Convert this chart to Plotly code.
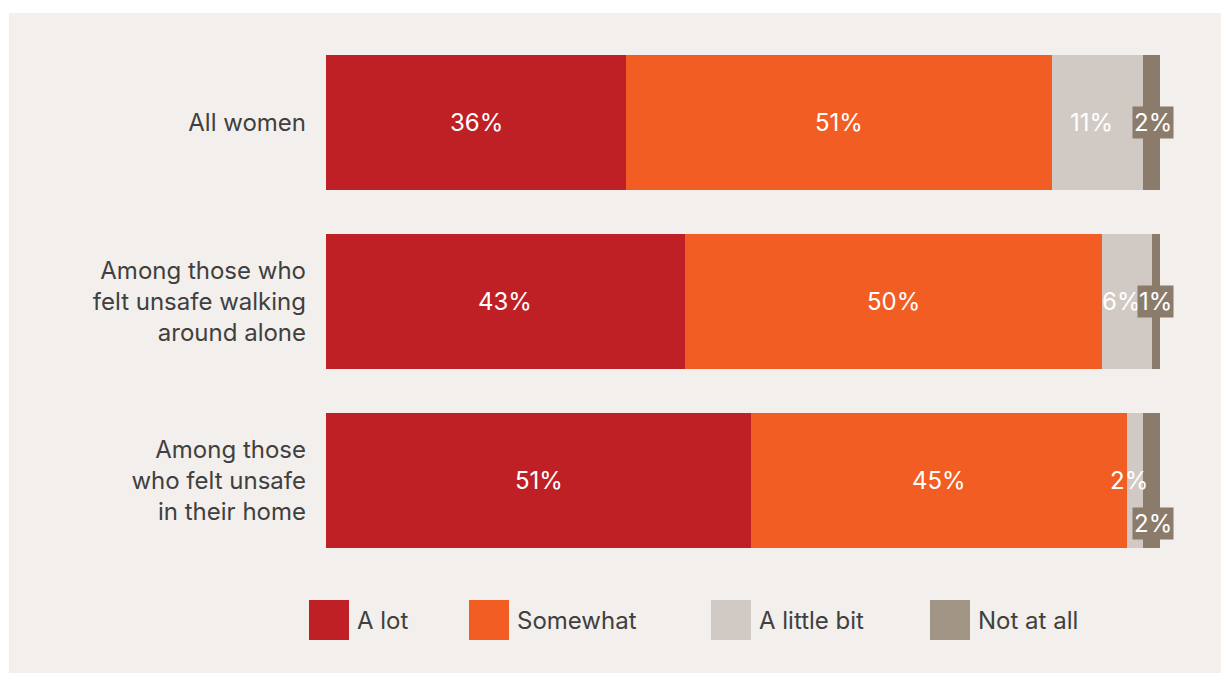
import plotly.graph_objects as go

categories = ["All women",
              "Among those who<br>felt unsafe walking<br>around alone",
              "Among those<br>who felt unsafe<br>in their home"]
series_names = ["A lot", "Somewhat", "A little bit", "Not at all"]
a_lot = [36, 43, 51]
somewhat = [51, 50, 45]
a_little = [11, 6, 2]
not_at_all = [2, 1, 2]

bar_colors = ["#BE2026", "#F15D22", "#D1CAC4", "#8B7B6A"]
legend_colors = ["#BE2026", "#F15D22", "#D1CAC4", "#A09484"]
text_color = "#404040"
FONT = "Inter"
FS = 24
FW = 400

W, H = 1221, 673
ML, MR, MT, MB = 326, 61, 33, 103
PW, PH = W - ML - MR, H - MT - MB


def px_x(x):
    return (x - ML) / PW


def px_y(y):
    return (H - MB - y) / PH


series = [a_lot, somewhat, a_little, not_at_all]
fig = go.Figure()
for name, vals, col in zip(series_names, series, bar_colors):
    fig.add_trace(go.Bar(
        y=categories, x=vals, name=name, orientation="h",
        marker=dict(color=col, line=dict(width=0)),
        width=0.754, hoverinfo="skip", showlegend=False,
    ))

annotations = []
for i, cat in enumerate(categories):
    cum = 0
    for s, vals in enumerate(series):
        v = vals[i]
        center = cum + v / 2
        cum += v
        label = f"{v}%"
        wfont = dict(family=FONT, size=FS, color="white", weight=FW)
        if s < 2:
            annotations.append(dict(x=center, y=cat, xref="x", yref="y", text=label,
                                    showarrow=False, font=wfont))
        elif s == 2:
            annotations.append(dict(x=center, y=cat, xref="x", yref="y", text=label,
                                    showarrow=False, xshift=-6, font=wfont))
        else:
            annotations.append(dict(x=cum, y=cat, xref="x", yref="y", text=label,
                                    showarrow=False, xanchor="right", xshift=14,
                                    yshift=(-43 if a_little[i] <= 2 else 0),
                                    bgcolor=bar_colors[3], borderpad=1, font=wfont))

shapes = [dict(type="rect", xref="paper", yref="paper",
               x0=px_x(9), x1=px_x(1221), y0=px_y(673), y1=px_y(13),
               fillcolor="#F3EFEC", line=dict(width=0), layer="below")]

legend_x = [309, 469, 711, 930]
for name, col, lx in zip(series_names, legend_colors, legend_x):
    shapes.append(dict(type="rect", xref="paper", yref="paper",
                       x0=px_x(lx), x1=px_x(lx + 40), y0=px_y(640), y1=px_y(600),
                       fillcolor=col, line=dict(width=0)))
    annotations.append(dict(x=px_x(lx + 46), y=px_y(620), xref="paper", yref="paper",
                            text=name, showarrow=False, xanchor="left", yanchor="middle",
                            font=dict(family=FONT, size=FS, color=text_color, weight=FW)))

fig.update_layout(
    width=W, height=H,
    margin=dict(l=ML, r=MR, t=MT, b=MB, pad=0),
    barmode="stack",
    paper_bgcolor="white",
    plot_bgcolor="rgba(0,0,0,0)",
    font=dict(family=FONT, size=FS, color=text_color),
    xaxis=dict(range=[0, 100], visible=False, fixedrange=True),
    yaxis=dict(autorange="reversed", showgrid=False, zeroline=False, showline=False,
               ticks="", ticklabelstandoff=19,
               tickfont=dict(family=FONT, size=FS, color=text_color, weight=FW)),
    shapes=shapes,
    annotations=annotations,
    showlegend=False,
)

fig.write_html("out.html")
